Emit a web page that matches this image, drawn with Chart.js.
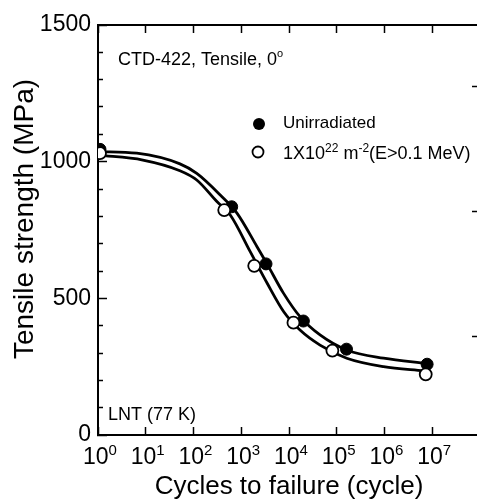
<!DOCTYPE html>
<html lang="en">
<head>
<meta charset="UTF-8">
<title>CTD-422 tensile fatigue</title>
<script src="https://cdn.jsdelivr.net/npm/chart.js"></script>
<style>
html, body { margin: 0; padding: 0; background: #fff; overflow: hidden; }
#wrap { width: 484px; height: 502px; }
</style>
</head>
<body>
<div id="wrap"><canvas id="fatigueChart" width="484" height="502"></canvas></div>
<script>
const unirrCycles   = [1.1, 630, 3300, 20000, 160000, 7.8e6];
const unirrStrength = [1045, 835, 626, 417, 314, 259];
const irrCycles     = [1.1, 440, 1870, 12400, 81000, 7.3e6];
const irrStrength   = [1031, 823, 619, 411, 309, 222];

// fitted curves, sampled along the drawn lines
const unirrFitCycles   = [1, 6.5, 52, 117, 363, 813, 2140, 3470, 7590, 17000, 44700, 162000, 955000, 7.76e6];
const unirrFitStrength = [1037, 1031, 992, 957, 878, 812, 689, 626, 520, 433, 366, 311, 281, 262];
const irrFitCycles     = [1, 8.7, 52, 117, 309, 589, 1550, 3470, 7760, 17000, 44700, 162000, 955000, 6.6e6];
const irrFitStrength   = [1024, 1006, 967, 933, 854, 805, 670, 556, 451, 384, 329, 281, 250, 235];

// axis ticks
const cycleTicks     = [1, 10, 100, 1e3, 1e4, 1e5, 1e6, 1e7];
const strengthTicks  = [0, 100, 200, 300, 400, 500, 600, 700, 800, 900, 1000, 1100, 1200, 1300, 1400, 1500];
const strengthLabels = [0, 500, 1000, 1500];
const rightTicks     = [1, 2, 3, 4, 5, 6];

const FONT = "'Liberation Sans', Arial, sans-serif";

const toPoints = (xs, ys) => xs.map((x, i) => ({ x: x, y: ys[i] }));
const zeroPad = s => { s.paddingLeft = 0; s.paddingRight = 0; s.paddingTop = 0; s.paddingBottom = 0; };
const tickList = vals => s => { s.ticks = vals.map(v => ({ value: v })); };

const frame = { display: true, color: '#000', width: 2 };
const inwardGrid = len => ({
    drawOnChartArea: false, drawTicks: true, tickLength: -len,
    tickWidth: 1.5, tickColor: '#000'
});

// writes a run of text pieces; each piece is [text, size, raise]
function richWidth(ctx, pieces) {
    let w = 0;
    pieces.forEach(([txt, size]) => { ctx.font = size + 'px ' + FONT; w += ctx.measureText(txt).width; });
    return w;
}
function drawRich(ctx, x, y, pieces) {
    pieces.forEach(([txt, size, raise]) => {
        ctx.font = size + 'px ' + FONT;
        ctx.fillText(txt, x, y - (raise || 0));
        x += ctx.measureText(txt).width;
    });
}

const panelText = {
    id: 'panelText',
    afterDraw(chart) {
        const ctx = chart.ctx;
        ctx.save();
        ctx.fillStyle = '#000';
        ctx.textAlign = 'left';
        ctx.textBaseline = 'alphabetic';

        // decade labels 10^n under the bottom axis ticks
        const xs = chart.scales.x;
        xs.ticks.forEach(t => {
            const pieces = [['10', 23], [String(Math.round(Math.log10(t.value))), 15, 9]];
            const px = xs.getPixelForValue(t.value) + 2;
            drawRich(ctx, px - richWidth(ctx, pieces) / 2, 464, pieces);
        });

        drawRich(ctx, 118, 65, [['CTD-422, Tensile, 0', 18], ['o', 11, 8]]);
        drawRich(ctx, 108, 420, [['LNT (77 K)', 18]]);

        // legend
        const filled = chart.data.datasets[1], open = chart.data.datasets[0];
        ctx.lineWidth = 1.8;
        ctx.beginPath(); ctx.arc(259, 124, 6, 0, Math.PI * 2);
        ctx.fillStyle = filled.pointBackgroundColor; ctx.fill();
        ctx.beginPath(); ctx.arc(258, 152, 5.5, 0, Math.PI * 2);
        ctx.fillStyle = open.pointBackgroundColor; ctx.fill();
        ctx.strokeStyle = open.pointBorderColor; ctx.stroke();
        ctx.fillStyle = '#000';
        drawRich(ctx, 283, 128, [['Unirradiated', 17]]);
        drawRich(ctx, 283, 159, [['1X10', 18], ['22', 12, 7], [' m', 18], ['-2', 12, 7], ['(E>0.1 MeV)', 18]]);

        // y axis title
        ctx.translate(25, 219);
        ctx.rotate(-Math.PI / 2);
        ctx.textAlign = 'center';
        ctx.textBaseline = 'middle';
        ctx.font = '28px ' + FONT;
        ctx.fillText('Tensile strength (MPa)', 0, 0);
        ctx.restore();
    }
};

const ctx = document.getElementById('fatigueChart').getContext('2d');
const chart = new Chart(ctx, {
    type: 'scatter',
    data: {
        datasets: [
            {
                label: '1X10^22 m^-2 (E>0.1 MeV)',
                data: toPoints(irrCycles, irrStrength),
                showLine: false, pointRadius: 6,
                pointBackgroundColor: '#fff', pointBorderColor: '#000', pointBorderWidth: 1.8,
                order: 0
            },
            {
                label: 'Unirradiated',
                data: toPoints(unirrCycles, unirrStrength),
                showLine: false, pointRadius: 6,
                pointBackgroundColor: '#000', pointBorderColor: '#000', pointBorderWidth: 1,
                order: 1
            },
            {
                label: 'Unirradiated fit',
                data: toPoints(unirrFitCycles, unirrFitStrength),
                showLine: true, pointRadius: 0, borderColor: '#000', borderWidth: 2.8,
                cubicInterpolationMode: 'monotone', order: 2
            },
            {
                label: 'Irradiated fit',
                data: toPoints(irrFitCycles, irrFitStrength),
                showLine: true, pointRadius: 0, borderColor: '#000', borderWidth: 2.8,
                cubicInterpolationMode: 'monotone', order: 3
            }
        ]
    },
    options: {
        responsive: false,
        devicePixelRatio: 1,
        animation: false,
        events: [],
        layout: { padding: 0, autoPadding: false },
        plugins: { legend: { display: false }, tooltip: { enabled: false } },
        scales: {
            x: {
                type: 'logarithmic', position: 'bottom', min: 1, max: 1e8,
                afterBuildTicks: tickList(cycleTicks),
                afterFit: s => { s.height = 67; zeroPad(s); },
                ticks: { autoSkip: false, maxRotation: 0, minRotation: 0, callback: () => '' },
                grid: inwardGrid(8),
                border: frame,
                title: {
                    display: true, text: 'Cycles to failure (cycle)', color: '#000',
                    font: { family: FONT, size: 26 }, padding: { top: 0, bottom: 0 }
                }
            },
            xTop: {
                type: 'logarithmic', position: 'top', min: 1, max: 1e8,
                afterBuildTicks: tickList(cycleTicks),
                afterFit: s => { s.height = 25; zeroPad(s); },
                ticks: { autoSkip: false, maxRotation: 0, callback: () => '' },
                grid: inwardGrid(8),
                border: frame
            },
            y: {
                type: 'linear', position: 'left', min: 0, max: 1500,
                afterBuildTicks: tickList(strengthTicks),
                afterFit: s => { s.width = 98; zeroPad(s); },
                ticks: {
                    autoSkip: false, padding: 16, color: '#000',
                    font: { family: FONT, size: 23 },
                    callback: v => strengthLabels.includes(v) ? String(v) : ''
                },
                grid: Object.assign(inwardGrid(9), {
                    tickBorderDash: c => strengthLabels.includes(c.tick.value) ? [] : [5, 4],
                    tickBorderDashOffset: c => strengthLabels.includes(c.tick.value) ? 0 : 5
                }),
                border: frame
            },
            yRight: {
                type: 'linear', position: 'right', min: 0.43, max: 6.99,
                afterBuildTicks: tickList(rightTicks),
                afterFit: s => { s.width = 4; zeroPad(s); },
                ticks: { autoSkip: false, callback: () => '' },
                grid: Object.assign(inwardGrid(8), {
                    tickBorderDash: c => c.tick.value % 2 === 0 ? [] : [4, 10]
                }),
                border: frame
            }
        }
    },
    plugins: [panelText]
});
</script>
</body>
</html>
